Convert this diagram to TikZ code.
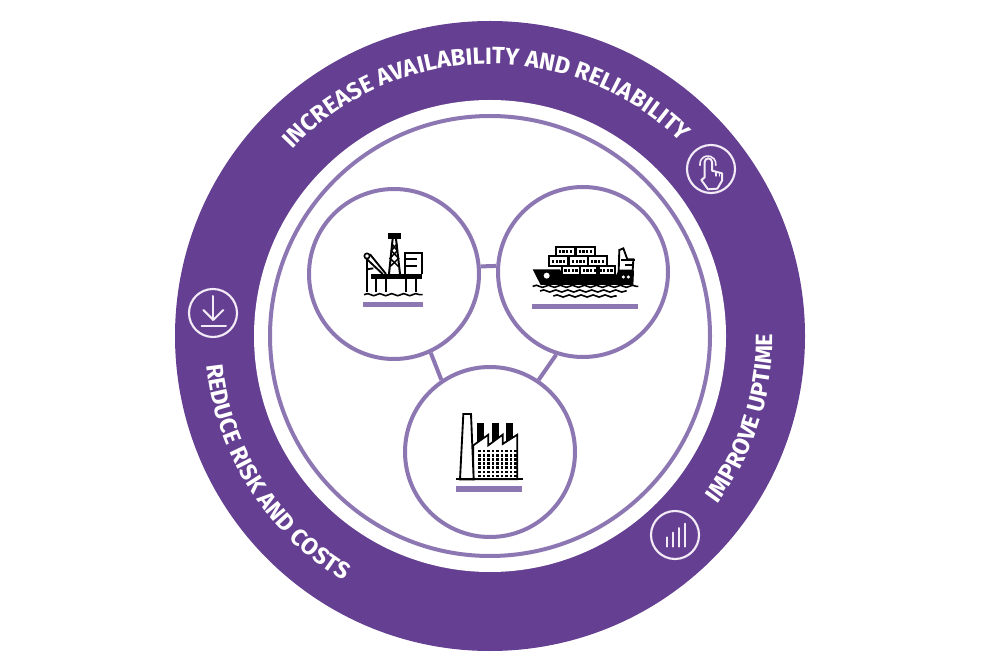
\documentclass[tikz,border=0pt]{standalone}
\usepackage{fontspec}
\setsansfont{Fira Sans}
\usetikzlibrary{calc,decorations.text,decorations.pathmorphing}
\definecolor{ringpurple}{HTML}{643F92}
\definecolor{linkpurple}{HTML}{8D77B2}
\definecolor{iconwhite}{HTML}{F3EBF6}
\newcommand{\ringfont}{\sffamily\bfseries\fontsize{17.7}{18}\selectfont\color{white}}
\tikzset{
	hubcircle/.style={circle,draw=linkpurple,line width=3pt,fill=white,minimum size=127.5pt,inner sep=0pt},
	badge/.style={circle,draw=iconwhite,line width=1.6pt,minimum size=36pt,inner sep=0pt},
	linkline/.style={draw=linkpurple,line width=3pt},
	iconline/.style={draw=iconwhite,line width=1.5pt,line cap=round,line join=round},
	wave/.style={draw=black,line width=1.2pt,decorate,decoration={snake,amplitude=.8pt,segment length=9pt}},
	plate/.style={fill=linkpurple,draw=none},
	ringtext/.style={decorate,decoration={text along path,text align=center,text={|\ringfont|#1}}}
}
\begin{document}
\begin{tikzpicture}[x=.75pt,y=.75pt]
	\useasboundingbox (0,0) rectangle (1002,668);
	\coordinate (C) at (490,332);
	\fill[ringpurple] (C) circle [radius=315];
	\fill[white] (C) circle [radius=236];
	\draw[linkpurple,line width=3pt] (C) circle [radius=220];

	\node[hubcircle] (rig) at (394,394) {};
	\node[hubcircle] (ship) at (583,396) {};
	\node[hubcircle] (factory) at (490,216) {};
	\draw[linkline] (rig.5) -- (ship.176);
	\draw[linkline] (rig.-65) -- (factory.124);
	\draw[linkline] (ship.-108) -- (factory.56);

	% ring texts
	\path[ringtext={INCREASE AVAILABILITY AND RELIABILITY}] ($(C)+(140:272)$) arc [start angle=140,end angle=42,radius=272];
	\path[ringtext={IMPROVE UPTIME}] ($(C)+(-48:283)$) arc [start angle=-48,end angle=12,radius=283];
	\path[ringtext={REDUCE RISK AND COSTS}] ($(C)+(176:285)$) arc [start angle=176,end angle=249,radius=285];

	% badges
	\node[badge] (touch) at (711,499) {};
	\node[badge] (download) at (213,355) {};
	\node[badge] (bars) at (675,133) {};

	\begin{scope}[shift={(640,538)},x=.25pt,y=-.25pt] % hand
		\draw[iconline,line width=1.2pt] (180,106) arc [start angle=170,end angle=370,radius=24];
		\draw[iconline] (194,142) -- (194,96) arc [start angle=180,end angle=360,radius=11] -- (216,122) -- (246,130) -- (246,152) -- (232,176) -- (204,178) -- (184,150) -- (194,142);
		\draw[iconline,line width=1pt] (228,125) -- (228,138) (238,128) -- (238,138);
	\end{scope}
	\begin{scope}[shift={(170,398)},x=.25pt,y=-.25pt] % download
		\draw[iconline] (130,78) -- (130,150);
		\draw[iconline] (100,120) -- (130,150) -- (160,120);
		\draw[iconline] (95,167) -- (168,167);
	\end{scope}
	\begin{scope}[shift={(630,178)},x=.25pt,y=-.25pt] % bars
		\draw[iconline] (110,170) -- (110,142);
		\draw[iconline] (128,170) -- (128,128);
		\draw[iconline] (147,170) -- (147,114);
		\draw[iconline] (165,170) -- (165,101);
	\end{scope}

	\begin{scope}[shift={(340,458)},x=.25pt,y=-.25pt] % rig and ship
		\fill (93,192) rectangle (247,208);
		\fill (145,70) rectangle (182,86);
		\draw[line width=1.5pt] (147,192) -- (158,86) (180,192) -- (168,86);
		\draw[line width=1.1pt] (150,170) -- (176,145) -- (154,122) -- (171,102) (176,170) -- (150,145) -- (172,122) -- (156,102);
		\draw[line width=1.3pt] (196,192) -- (196,130) -- (245,130) -- (245,192) (196,148) -- (232,148) (196,168) -- (232,168);
		\draw[line width=1.3pt] (80,245) -- (80,140) (108,208) -- (108,245) (138,208) -- (138,245) (198,208) -- (198,245) (228,208) -- (228,245);
		\draw[line width=1.4pt] (78,145) -- (128,192) (90,133) -- (138,192) (100,175) -- (80,178);
		\draw[line width=1.2pt,fill=white] (81,138) circle [radius=8];
		\draw[wave] (72,254) -- (248,254);
		\fill[plate] (70,277) rectangle (250,292);

		\fill (578,178) -- (660,178) -- (668,196) -- (828,196) -- (835,182) -- (882,182) -- (880,225) -- (602,225) -- cycle;
		\fill[white] (620,197) circle [radius=9] (850,201) circle [radius=5] (865,201) circle [radius=5];
		\foreach \bx/\by in {648/110,708/110,628/139,688/139,744/139,665/167,720/167,770/167}
		{
			\draw[line width=1.3pt] (\bx,\by) rectangle ++(56,28);
			\foreach \dd in {8,19,30,41} \fill (\bx+\dd,\by+10) rectangle ++(7,9);
		}
		\draw[line width=1.4pt,fill=white] (836,182) -- (838,120) -- (850,115) -- (862,148) -- (880,148) -- (878,182) -- cycle;
		\draw[line width=1.1pt] (842,150) -- (886,150) (854,165) -- (880,165);
		\draw[wave] (578,229) -- (895,229);
		\draw[wave] (600,243) -- (860,243);
		\draw[wave] (640,258) -- (830,258);
		\fill[plate] (577,282) rectangle (895,297);
	\end{scope}

	\begin{scope}[shift={(440,268)},x=.25pt,y=-.25pt] % factory
		\fill (110,68) rectangle (132,132);
		\fill (155,68) rectangle (178,132);
		\fill (198,68) rectangle (220,132);
		\draw[line width=1.3pt,fill=white] (100,136) -- (145,104) -- (145,136) -- (188,104) -- (188,132) -- (232,104) -- (232,238) -- (100,238) -- cycle;
		\draw[line width=1.4pt,fill=white] (60,238) -- (70,42) -- (93,42) -- (101,238) -- cycle;
		\draw[line width=1.4pt] (47,238) -- (250,238);
		\foreach \wx in {0,...,8}
			\foreach \wy in {0,...,6}
				\fill (115+\wx*13.5,149+\wy*12.5) rectangle ++(7,8);
		\fill[plate] (47,257) rectangle (247,275);
	\end{scope}
\end{tikzpicture}
\end{document}
